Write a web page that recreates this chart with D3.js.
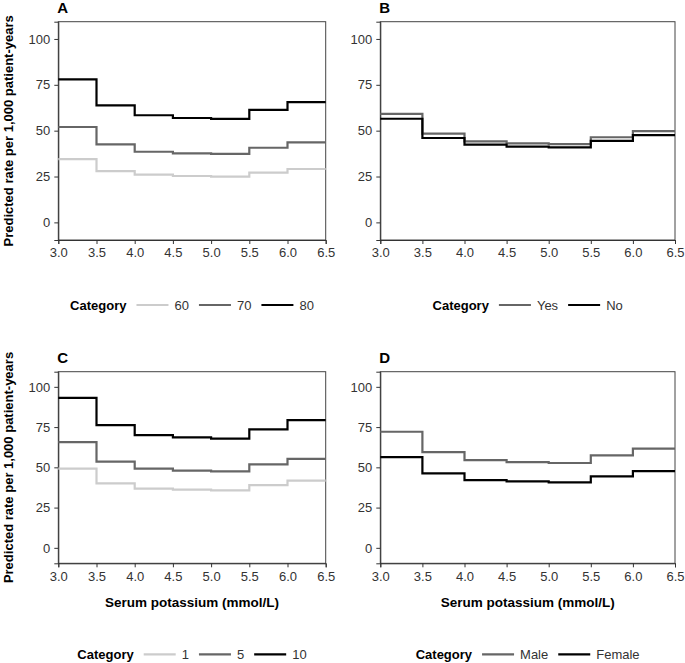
<!DOCTYPE html>
<html>
<head>
<meta charset="utf-8">
<script src="https://cdn.jsdelivr.net/npm/d3@7"></script>
<style>
  body { margin: 0; background: #fff; }
  text { font-family: "Liberation Sans", Arial, sans-serif; }
</style>
</head>
<body>
<div class="svg"></div>
<script>
// potassium bins (step starts) and y ticks
var xBreaks = [3.0, 3.5, 4.0, 4.5, 5.0, 5.5, 6.0, 6.5];
var yTicks = [0, 25, 50, 75, 100];

// panel A - age
var ageLabels = ['60', '70', '80'];
var age60 = [34.5, 28.0, 26.0, 25.3, 24.9, 27.1, 29.1];
var age70 = [52.0, 42.5, 38.5, 37.6, 37.3, 40.7, 43.6];
var age80 = [78.0, 63.8, 58.4, 56.9, 56.4, 61.3, 65.6];

// panel B - yes / no
var ynLabels = ['Yes', 'No'];
var ynYes = [59.1, 48.4, 44.2, 43.1, 42.7, 46.4, 49.8];
var ynNo = [56.5, 46.0, 42.4, 41.3, 40.9, 44.4, 47.6];

// panel C
var cLabels = ['1', '5', '10'];
var c1 = [49.2, 40.1, 36.8, 36.2, 35.7, 39.0, 41.7];
var c5 = [65.7, 53.5, 49.2, 47.9, 47.5, 51.9, 55.2];
var c10 = [93.2, 76.2, 70.0, 68.6, 67.8, 73.6, 79.3];

// panel D - sex
var sexLabels = ['Male', 'Female'];
var sexMale = [72.1, 59.5, 54.5, 53.3, 52.7, 57.4, 61.6];
var sexFemale = [56.4, 46.3, 42.1, 41.3, 40.7, 44.4, 47.7];

var LIGHT = '#cccccc', MID = '#666666', DARK = '#000000';

var panels = [
  {tag: 'A', col: 0, row: 0, labels: ageLabels, series: [age60, age70, age80], colors: [LIGHT, MID, DARK]},
  {tag: 'B', col: 1, row: 0, labels: ynLabels, series: [ynYes, ynNo], colors: [MID, DARK]},
  {tag: 'C', col: 0, row: 1, labels: cLabels, series: [c1, c5, c10], colors: [LIGHT, MID, DARK]},
  {tag: 'D', col: 1, row: 1, labels: sexLabels, series: [sexMale, sexFemale], colors: [MID, DARK]}
];

var W = 685, H = 663;
var colX = [[58.3, 325.7], [380.3, 675]];
var rowY = [[21.7, 240], [371.7, 563.3]];
var legendY = [305, 654.3];

var svg = d3.select('div.svg').append('svg')
  .attr('width', W)
  .attr('height', H);

panels.forEach(function (p) {
  var xr = colX[p.col], yr = rowY[p.row];
  var x = d3.scaleLinear().domain([3.0, 6.5]).range(xr);
  var y = d3.scaleLinear().domain([-9.6, 109.4]).range([yr[1], yr[0]]);
  var g = svg.append('g');

  // panel box
  g.append('rect')
    .attr('x', xr[0]).attr('y', yr[0])
    .attr('width', xr[1] - xr[0]).attr('height', yr[1] - yr[0])
    .attr('fill', 'none').attr('stroke', '#444').attr('stroke-width', 1);

  // axes
  var xAxis = d3.axisBottom(x).tickValues(xBreaks).tickFormat(d3.format('.1f')).tickSize(4).tickPadding(4);
  var yAxis = d3.axisLeft(y).tickValues(yTicks).tickSize(4).tickPadding(4);
  var gx = g.append('g').attr('transform', 'translate(0,' + yr[1] + ')').call(xAxis);
  var gy = g.append('g').attr('transform', 'translate(' + xr[0] + ',0)').call(yAxis);
  [gx, gy].forEach(function (a) {
    a.select('.domain').attr('stroke', '#333');
    a.selectAll('.tick line').attr('stroke', '#333');
    a.selectAll('.tick text').attr('fill', '#333').style('font-size', '13px')
      .style('font-family', '"Liberation Sans", Arial, sans-serif');
  });

  // step lines
  var line = d3.line()
    .x(function (d) { return x(d[0]); })
    .y(function (d) { return y(d[1]); })
    .curve(d3.curveStepAfter);

  p.series.forEach(function (vals, i) {
    var pts = xBreaks.map(function (b, j) { return [b, vals[Math.min(j, vals.length - 1)]]; });
    g.append('path')
      .datum(pts)
      .attr('d', line)
      .attr('fill', 'none')
      .attr('stroke', p.colors[i])
      .attr('stroke-width', 2.2);
  });

  // panel tag
  g.append('text')
    .attr('x', xr[0] - 1).attr('y', yr[0] - 9)
    .style('font-size', '15px').style('font-weight', 'bold')
    .text(p.tag);

  // y title on left column
  if (p.col === 0) {
    g.append('text')
      .attr('transform', 'translate(12.5,' + ((yr[0] + yr[1]) / 2) + ') rotate(-90)')
      .attr('text-anchor', 'middle')
      .style('font-size', '13px').style('font-weight', 'bold')
      .text('Predicted rate per 1,000 patient-years');
  }
  // x title on bottom row
  if (p.row === 1) {
    g.append('text')
      .attr('x', (xr[0] + xr[1]) / 2).attr('y', 606.5)
      .attr('text-anchor', 'middle')
      .style('font-size', '13.5px').style('font-weight', 'bold')
      .text('Serum potassium (mmol/L)');
  }

  // legend, laid out then centred under the panel
  var lg = g.append('g');
  var ly = legendY[p.row];
  var cx = 0;
  var title = lg.append('text').attr('x', 0).attr('y', ly + 4.5)
    .style('font-size', '13px').style('font-weight', 'bold').text('Category');
  cx = title.node().getComputedTextLength() + 10;
  p.labels.forEach(function (lab, i) {
    lg.append('line')
      .attr('x1', cx).attr('x2', cx + 32)
      .attr('y1', ly).attr('y2', ly)
      .attr('stroke', p.colors[i]).attr('stroke-width', 2.2);
    cx += 38;
    var t = lg.append('text').attr('x', cx).attr('y', ly + 4.5)
      .attr('fill', '#333').style('font-size', '13px').text(lab);
    cx += t.node().getComputedTextLength() + 10;
  });
  var lw = cx - 10;
  lg.attr('transform', 'translate(' + ((xr[0] + xr[1]) / 2 - lw / 2) + ',0)');
});
</script>
</body>
</html>
